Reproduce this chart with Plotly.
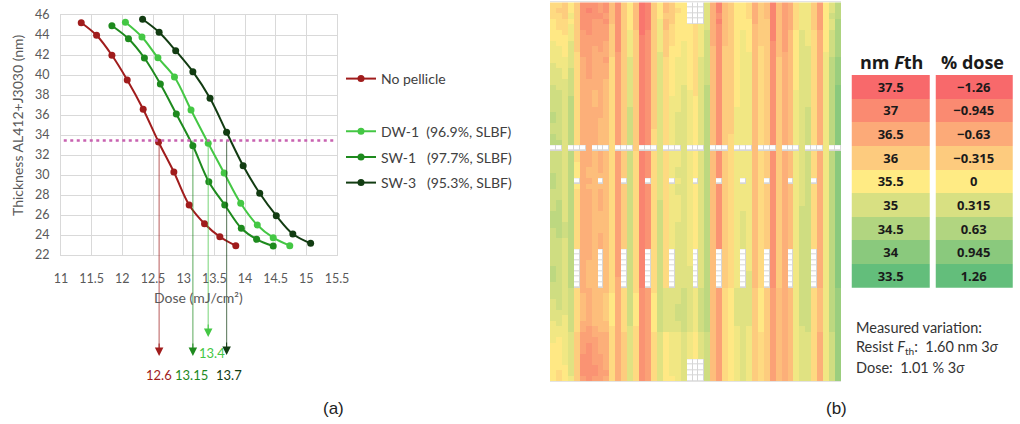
import plotly.graph_objects as go

W, H = 1020, 424

# ---------------- Panel (a) data ----------------
dose_np = [11.33, 11.58, 11.83, 12.08, 12.34, 12.59, 12.84, 13.09, 13.34, 13.59, 13.85]
thk_np = [45.23, 43.97, 41.97, 39.5, 36.57, 33.3, 30.3, 27.0, 25.13, 23.83, 22.93]
dose_dw1 = [12.05, 12.32, 12.58, 12.85, 13.12, 13.40, 13.66, 13.93, 14.20, 14.46, 14.73]
thk_dw1 = [45.27, 43.8, 41.73, 39.8, 36.5, 33.17, 30.2, 27.17, 25.0, 23.73, 22.93]
dose_sw1 = [11.83, 12.10, 12.36, 12.62, 12.88, 13.15, 13.41, 13.67, 13.94, 14.19, 14.46]
thk_sw1 = [44.93, 43.63, 41.7, 39.1, 36.1, 32.93, 29.33, 27.0, 24.67, 23.57, 22.9]
dose_sw3 = [12.33, 12.60, 12.87, 13.15, 13.43, 13.70, 13.97, 14.24, 14.51, 14.78, 15.07]
thk_sw3 = [45.57, 44.27, 42.43, 40.33, 37.67, 34.27, 30.93, 28.17, 25.93, 24.1, 23.17]
series_names = ["No pellicle", "DW-1\u00a0\u00a0(96.9%, SLBF)",
                "SW-1\u00a0\u00a0\u00a0(97.7%, SLBF)", "SW-3\u00a0\u00a0\u00a0(95.3%, SLBF)"]
series_colors = ["#A01C1C", "#44C744", "#1E8A1E", "#123C12"]

threshold_nm = 33.45
cross_dose = [12.6, 13.15, 13.4, 13.7]
cross_labels = ["12.6", "13.15", "13.4", "13.7"]
cross_colors = ["#A01C1C", "#1E8A1E", "#44C744", "#123C12"]

# ---------------- Panel (b) data ----------------
# encoding key: A = highest Fth level ... Q = lowest (see level_top/level_step); '.' = missing site
level_top, level_step = 37.3, 0.22
hm_rows = [
    "HHGIG CCCDC FCGIF ABGIF GII.. .KEBF GIIHE GFBFD EHJJG DIKM",
    "HGGIG CBCDC FCGIF ABGIF GHI.. .KEBF GIIHE GFBFD EHJJG DIKM",
    "HHGJG CCCCD FCGIF ABGIG GII.. .KECF GIIHE GFBFD EHJJG DILM",
    "IHHIG CCDDC FCGIF ABGJF GII.. .KEBF GIIIE GGBFD EHJJG DIKN",
    "IHHJG CCDDD GCGIF ABGJF HIIIH JKECF GIIIF GGBFD EHJJG DIKN",
    "IIHJG DCDDD GCGJG ACGJG HIIIH JLECF GIJIF GGBFD FIKJH EILN",
    "IIIJG DDDDD GCGJG BCGJG HIIIH JLECF GIJIF GGBFD FIKJH EILN",
    "JIIKG DDDDE GCGJG BCGJG HIJIH JLECF GIJIF GGCFD FIKJH EILN",
    "JJIKG DDEDE GCGJG BCGJG IIJIH JLFCG GIJIF HGCFD FIKKH EILN",
    "JJIKH DDEEE GDGJG BCGKG IIJIH JLFCG GIJJF HGCFE FIKKH EJLN",
    "JJJKH EDEED HDGKG BCGKH IJJIH KLFCG GIJJF HGCGE FIKKH EJMO",
    "KJJKH EDEEE HDGKG BCGKH IJJIH KLFCG GIJJF HGCGE FIKKH EJMO",
    "KKJLH EDEEE HDGKG BCGKH IJJIH KLFCG GIJJF HGCGE FIKKH EJMO",
    "KKJLH EDEEE HDGKG BCGKH IJJIH KLFCG GIJJF HGCGE FIKKH EJMO",
    "KKKLH EEEEF HDGKG BCGKH IJJIH KLFCG GIJJF HGCGE FIKKH EJMO",
    "LKKLH EEEEF HDGKG BCGKH IJKIH KMFCG GIJJF HGCGE FIKKH EJMP",
    "LLKLH EEFEF HDGKG BCGKH IJKJH KMFCG GIJJF HGCGE FJKKH EJMP",
    "LLKMH EEFEF HDGKG BCGKH JJKJI KMFCG GIJJF HGCGE FJKKH EJMP",
    "LLKMH EEFEF HDGKG BCGKH JJKJI KMFCG GIJJF HGCGE FJKKH EJMP",
    "LLKMH EEEEF HDGLG BCGKH JJKJI KMFCG GJJJF HGCGE FJKLH EJMP",
    "MLKMH EEEEF HDGLG BCGKH JKKJI KMFCG GJJJF HGCGE FJKLH EJMP",
    "MLKMH EEEFF HDGLG BCGKH JKKJI KMFCG GJJJF HGCGE FJKLH EJMP",
    "LLKMH EEEFF HDGLG BCGKH JKKJI KMFCG GJJJF HGCGE FJKLH EJMP",
    "LLKMH EEEFF HDGLG BCHKH JKKJI KMFCG GJJJF HGCGE FJKLH EJMP",
    "MLKMH EEEFF HDGLG BCHKH JKKJI KMFCG HJJJF HGCGE FJKLH EJMP",
    "MMKMH EEEFF HDGLG BCHKH JKKJI KMFCG HJJJF HGCGE FJKLH EJMP",
    "..K.. .E... H...G ...K. ..K.. .M... H...F ...G. ..K.. .J..",
    "LLKMH EEFEF HDGLH BCHKH JJKJI KMFCG HJJJF HGCGE FJKLH EJMP",
    "LLKMH EEFEF HDGLH BCHKH JJKJI KMFCG HJJJF HGCGE FJKLH EJMP",
    "LLKMI EEFEF HDGLH BCHKH JJKJI KMFCG HJJJF HGCGE FJKLH EJMP",
    "LLKMI EFFEF HDGLH BCHKH JKKJI KMFCG HJJJF HGCGE FJKLH EJMP",
    "MLKMI EFFFF HDGLH BCHKH JKKJI KMFCG HJJJF HGCGE FJKLH EJMP",
    "MLKM. EEF.F HD.LH B.HKH .JKJ. KMF.G HJ.JF H.CGE .JKL. EJMP",
    "MLKMI EFFFF HDGLH BCHKH JKKJI KMFCG HJJJF HGCGE FJKLH EJMP",
    "LLKMH EEFEF HDGLH BCHKH JKKJI KMFCG HJJJF HGCGE FJKLH EJMP",
    "LLKMH EEFEF HDGLH BCHKH JJKJI KMFCG HJJJF HGCGE FJKLH EJMP",
    "LMKMH EEFEF HDGLH BCHLH JJKJI KMFCG HJJJF HGCGE FJKLH EJMP",
    "LMKMH EEFEF HDGLH BCHLH JJKJI KMFCG HJJJF HGCGE FJLLH EJMP",
    "MMKMH EEFFF HDGLH BCHLH JJKJI KMFCG HJKJF HGCGE FJLLH EJMP",
    "MMKMH EEFFF HDGLH BCHLH JJKJI KMFCG HJKJF HGCGE FJLLH EJMP",
    "MMLMH EEFFF HDGLH BCHLH JKKJI KMFCG HJKJF HGCGE FJLLH EJMP",
    "LMLMH EEFFF HDGLH BCHLH JKKJI KMFCG HJKJF HGCGE FJLLH EJMP",
    "LMLMH EEFEF HDGLH BCHLH JKKJI KMFCG HJKJF HGCGE FJLLH EJMP",
    "LLKMH EEFEF HDGLH BCHLH JKKJI KMFCG HJKJF HGCGE FJLLH EJMP",
    "LLKMH EEFEF HDGLH BCHLH JKKJI KMFCG HJKJF HGCGE FJLLH EJMP",
    "LLKM. EEF.F HD.LH B.HLH .KKJ. KMF.G HJ.JF H.CGE .JLL. EJMP",
    "LLKM. EEF.F HD.LH B.HLH .KKJ. KMF.G HJ.JF H.CGE .JLL. EJMP",
    "LLKM. EFF.F HD.LH B.HLH .KKJ. KMF.G HJ.JF H.CGE .JLL. EJMP",
    "MLKM. EFF.F HD.LH B.HLH .KKK. KMF.G HJ.JF H.CGE .JLL. EJMP",
    "MLKM. EFF.F HD.LH B.HLH .KKK. KMF.G HJ.KF H.CGE .JLL. EJMP",
    "MLKM. EFF.F HE.LH B.HLH .KKK. KMF.G HJ.KF H.CGE .JLL. EJMP",
    "LLKM. EFF.F HE.LH B.HLH .KKK. KMF.G HJ.KF H.CGE .JLL. EJMP",
    "LLKLH EEFFF HEHLH CDHLK KKLKJ LMFDH IKKKG IGDFE FJLLH FJMO",
    "LLKLH FEFFG IEHLI CDILK KKLKJ LMFDH IKKKG IGDFE FJLLH FJMO",
    "KLKLH FEFFG IEHLI CDILK KKLKJ LMFDH IKKKG IGDFE FJLLH FJMO",
    "KLKLH FEFFG IEHLI CDILK KLLKJ LMFDH IKKKG IGDFE FJLLH FJMO",
    "KKKLH FEFFG IEHLI CDILK KLLKJ LMFDH IKKKG IGDFE FJLLH FJMO",
    "KKJLH FEFFG IEHLI CDILK KLLKJ LMFDH IKKKG IGDFE FJLLH FJMO",
    "JKJLH EEFFF IEHLI CDILK KKLKJ LMFDH IKKKG IGDFE FJLLH FJMO",
    "JJJLH EDEFF HEHKH CDILK KKLKJ LMFDH IJKJG IGDFE FJKLH FJMO",
    "JJJKG DDEEE HEGKH CDHKI JJKJI KLFDH IJKJG HGDFE FJKKH EJLO",
    "JIJKG DDDEE HEGKH CDHKI JJKJI KLFDH IJKJG HGDFE FJKKH EJLO",
    "IIJKG DCDEE HEGKH CDHKI JJKJI KLFDH IJKJG HGDFE FJKKH EJLO",
    "IIJKG DCDEE HEGKH CDHKI JJKJI KLFDH IJKJG HGDFE FJKKH EJLO",
    "IIJKG CCDDE HEGKH CDHKI JJKJI KLFDH IJKJG HGDFE FJKKH EJLO",
    "IIJKG CCDDE HEGKH CDHKI JJK.. .LFDH IJKJG HGDFE FJKKH EJLO",
    "IIIKG CCCDE HEGKH CDHKI JJK.. .LFDH IJKJG HGDFE FJKKH EJLO",
    "IHIKG CCCDD HEGKH CDHKI JJK.. .LFDH IJKJG HGDFE FJKKH EJLO",
    "IHIJG DCDDE HEGKH CDHKI IJK.. .LFDH IJKJG HGDFE FJKKH EJLO",
]
table_fth = [37.5, 37, 36.5, 36, 35.5, 35, 34.5, 34, 33.5]
table_dose = ["\u22121.26", "\u22120.945", "\u22120.63", "\u22120.315", "0",
              "0.315", "0.63", "0.945", "1.26"]
fth_min, fth_max = 33.5, 37.5
scale_colors = ["#63BE7B", "#FFEB84", "#F8696B"]

# ---------------- decode heatmap ----------------
z_main, z_miss = [], []
for i, s in enumerate(hm_rows):
    r = s.replace(" ", "")
    assert len(r) == 49, (i, len(r))
    z_main.append([None if c == "." else level_top - level_step * (ord(c) - 65) for c in r])
    z_miss.append([1 if c == "." else None for c in r])


def fx(px):
    return px / W


def fy(px):
    return 1 - px / H


FONT = "Lato"
xdom = [fx(61), fx(337)]
ydom = [fy(255), fy(15)]
yr = [22, 46]
k = (yr[1] - yr[0]) / (ydom[1] - ydom[0])
y2r = [yr[0] - ydom[0] * k, yr[1] + (1 - ydom[1]) * k]


def y2px(px):
    return y2r[1] - (px / H) * (y2r[1] - y2r[0])


fig = go.Figure()

all_series = [(dose_np, thk_np), (dose_dw1, thk_dw1), (dose_sw1, thk_sw1), (dose_sw3, thk_sw3)]
legend_ids = ["legend", "legend2", "legend3", "legend4"]
for (xs, ys), name, col, lg in zip(all_series, series_names, series_colors, legend_ids):
    fig.add_trace(go.Scatter(
        x=xs, y=ys, name=name, mode="lines+markers",
        line=dict(color=col, width=2, shape="spline"),
        marker=dict(color=col, size=7),
        legend=lg, xaxis="x", yaxis="y", hoverinfo="skip"))

# vertical guide lines from threshold down to arrows
tip_px = [356, 356, 337, 355]
for d, col, tp in zip(cross_dose, cross_colors, tip_px):
    fig.add_trace(go.Scatter(
        x=[d, d], y=[threshold_nm, y2px(tp - 6)], mode="lines",
        line=dict(color=col, width=1.2), opacity=0.6,
        showlegend=False, xaxis="x2", yaxis="y2", hoverinfo="skip"))

# heatmap (b)
cs = [[0, scale_colors[0]], [0.5, scale_colors[1]], [1, scale_colors[2]]]
fig.add_trace(go.Heatmap(z=z_main, colorscale=cs, zmin=fth_min, zmax=fth_max,
                         showscale=False, xaxis="x3", yaxis="y3", hoverinfo="skip"))
fig.add_trace(go.Heatmap(z=z_miss, colorscale=[[0, "#d6d6d6"], [1, "#d6d6d6"]],
                         showscale=False, xaxis="x3", yaxis="y3", hoverinfo="skip"))
fig.add_trace(go.Heatmap(z=z_miss, colorscale=[[0, "#ffffff"], [1, "#ffffff"]],
                         xgap=1, ygap=1, showscale=False, xaxis="x3", yaxis="y3",
                         hoverinfo="skip"))

# legend table
tz = [[v, v] for v in table_fth]
tt = [[f"<b>{v:g}</b>", f"<b>{d}</b>"] for v, d in zip(table_fth, table_dose)]
fig.add_trace(go.Heatmap(z=tz, text=tt, texttemplate="%{text}",
                         textfont=dict(family="Open Sans", size=13, color="#1a1a1a"),
                         colorscale=cs, zmin=fth_min, zmax=fth_max, xgap=6, ygap=0,
                         showscale=False, xaxis="x4", yaxis="y4", hoverinfo="skip"))

tickfont = dict(family=FONT, size=12.5, color="#595959")
grid = "#d9d9d9"

layout = dict(
    width=W, height=H, margin=dict(l=0, r=0, t=0, b=0, autoexpand=False),
    paper_bgcolor="white", plot_bgcolor="rgba(0,0,0,0)",
    hovermode=False,
    xaxis=dict(domain=xdom, range=[11, 15.5], dtick=0.5, tick0=11, gridcolor=grid,
               showline=True, mirror=True, linecolor=grid, zeroline=False,
               ticks="outside", ticklen=12, tickcolor="rgba(0,0,0,0)",
               tickfont=tickfont, anchor="y", automargin=False),
    yaxis=dict(domain=ydom, range=yr, dtick=2, gridcolor=grid,
               showline=True, mirror=True, linecolor=grid, zeroline=False,
               ticks="outside", ticklen=8, tickcolor="rgba(0,0,0,0)",
               tickfont=tickfont, anchor="x", automargin=False),
    xaxis2=dict(domain=xdom, range=[11, 15.5], visible=False, anchor="y2", automargin=False),
    yaxis2=dict(domain=[0, 1], range=y2r, visible=False, anchor="x2", automargin=False),
    xaxis3=dict(domain=[fx(550), fx(841)], range=[-0.5, 48.5], showgrid=False,
                zeroline=False, showticklabels=False, showline=True, mirror=True,
                linecolor="#e3e3e3", anchor="y3", automargin=False),
    yaxis3=dict(domain=[fy(381), fy(2.3)], range=[68.5, -0.5], showgrid=False,
                zeroline=False, showticklabels=False, anchor="x3", automargin=False),
    xaxis4=dict(domain=[fx(848.7), fx(1015.7)], range=[-0.5, 1.5], visible=False,
                anchor="y4", automargin=False),
    yaxis4=dict(domain=[fy(287.7), fy(75)], range=[8.5, -0.5], visible=False,
                anchor="x4", automargin=False),
)
legend_y = [79, 131.7, 157.5, 183]
for lg, ly in zip(legend_ids, legend_y):
    layout[lg] = dict(x=fx(341), y=fy(ly), xanchor="left", yanchor="middle",
                      bgcolor="rgba(0,0,0,0)",
                      font=dict(family=FONT, size=14, color="#404040"))
fig.update_layout(**layout)

# threshold dotted line
fig.add_shape(type="line", xref="x domain", yref="y", x0=0.01, x1=0.99,
              y0=threshold_nm, y1=threshold_nm,
              line=dict(color="#C862B0", width=2.5, dash="3px,3.5px"))

ann = []
# arrow heads and labels
label_px = [375, 375, 352.5, 375]
label_shift = [0, -1, 4, 2]
for d, lab, col, tp, lp, sh in zip(cross_dose, cross_labels, cross_colors, tip_px,
                                   label_px, label_shift):
    ann.append(dict(xref="x2", yref="y2", x=d, y=y2px(tp), text="", showarrow=True,
                    ax=0, ay=-14, axref="pixel", ayref="pixel", arrowhead=2,
                    arrowsize=1.7, arrowwidth=1, arrowcolor=col, standoff=0))
    ann.append(dict(xref="x2", yref="y2", x=d, y=y2px(lp), text=lab, showarrow=False,
                    xanchor="center", yanchor="middle",
                    xshift=sh, font=dict(family=FONT, size=13, color=col)))


def pann(x, y, text, font, **kw):
    d = dict(xref="paper", yref="paper", x=fx(x), y=fy(y), text=text, showarrow=False,
             xanchor="center", yanchor="middle", font=font)
    d.update(kw)
    return d


# axis titles
ann.append(pann(17, 126, "Thickness AL412+J3030 (nm)",
                dict(family=FONT, size=14, color="#595959"), textangle=-90))
ann.append(pann(198, 297, "Dose (mJ/cm\u00b2)", dict(family=FONT, size=14, color="#595959")))

# table headers
hfont = dict(family="Open Sans", size=18, color="#1a1a1a")
ann.append(pann(891, 62, "<b>nm <i>F</i>th</b>", hfont))
ann.append(pann(972, 62, "<b>% dose</b>", hfont))

# measured variation text
notes = ["Measured variation:",
         "Resist <i>F</i><sub>th</sub>:\u00a0 1.60 nm 3<i>\u03c3</i>",
         "Dose:\u00a0 1.01 % 3<i>\u03c3</i>"]
for t, py in zip(notes, [327, 347, 367]):
    ann.append(pann(854, py, t, dict(family=FONT, size=14.5, color="#333333"), xanchor="left"))

# panel captions
cfont = dict(family="Liberation Sans", size=17, color="#222222")
ann.append(pann(333, 408, "(a)", cfont))
ann.append(pann(836, 408, "(b)", cfont))

fig.update_layout(annotations=ann)
fig.write_html("out.html", config={"displayModeBar": False},
               post_script="document.body.style.margin='0px';document.body.style.overflow='hidden';")
